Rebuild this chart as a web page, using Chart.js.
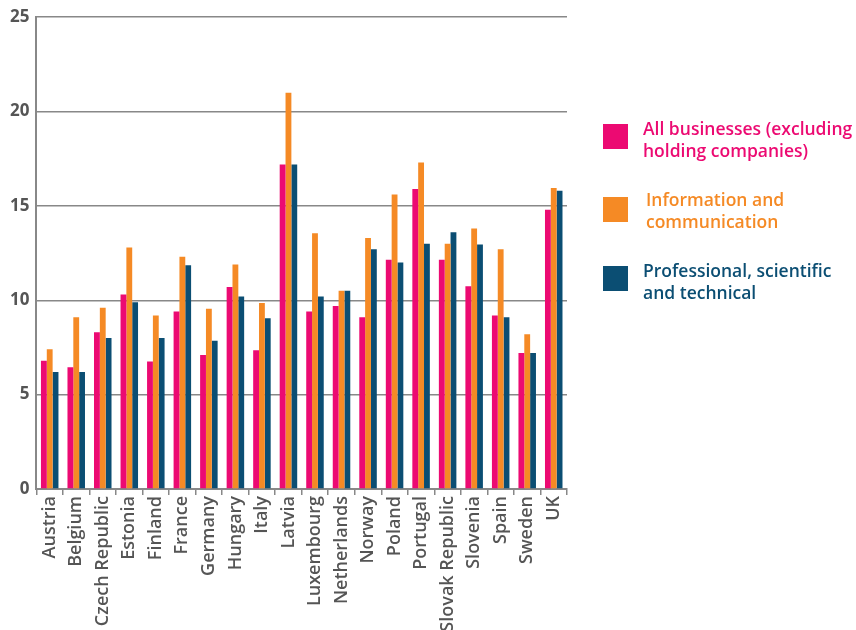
<!DOCTYPE html>
<html lang="en">
    <head>
        <script src="https://cdn.jsdelivr.net/npm/chart.js"></script>
        <style>
            body { margin: 0; background: #fff; font-family: "Open Sans", sans-serif; }
            #wrap { position: relative; width: 856px; height: 630px; overflow: hidden; }
            .leg { position: absolute; left: 603px; }
            .leg .box { position: absolute; left: 0; width: 25px; height: 25px; }
            .leg .txt { position: absolute; left: 40px; width: 215px; font-size: 17.5px; font-weight: 600; line-height: 22px; white-space: nowrap; }
        </style>
    </head>
    <body>
        <div id="wrap">
            <canvas id="myChart" width="856" height="630"></canvas>
            <div class="leg" style="top:124px">
                <div class="box" style="background:#ec0a72"></div>
                <div class="txt" style="color:#ec0a72;top:-7px">All businesses (excluding<br>holding companies)</div>
            </div>
            <div class="leg" style="top:197px">
                <div class="box" style="background:#f58a25"></div>
                <div class="txt" style="color:#f58a25;top:-9px;left:43px">Information and<br>communication</div>
            </div>
            <div class="leg" style="top:266px">
                <div class="box" style="background:#0b4e73"></div>
                <div class="txt" style="color:#0b4e73;top:-7px">Professional, scientific<br>and technical</div>
            </div>
        </div>
        <script>
            const countries = ["Austria", "Belgium", "Czech Republic", "Estonia", "Finland", "France", "Germany",
                "Hungary", "Italy", "Latvia", "Luxembourg", "Netherlands", "Norway", "Poland", "Portugal",
                "Slovak Republic", "Slovenia", "Spain", "Sweden", "UK"]
            const allBusinesses = [6.8, 6.45, 8.3, 10.3, 6.75, 9.4, 7.1, 10.7, 7.35, 17.2,
                9.4, 9.7, 9.1, 12.15, 15.9, 12.15, 10.75, 9.2, 7.2, 14.8]
            const infoComm = [7.4, 9.1, 9.6, 12.8, 9.2, 12.3, 9.55, 11.9, 9.85, 21.0,
                13.55, 10.5, 13.3, 15.6, 17.3, 13.0, 13.8, 12.7, 8.2, 15.95]
            const professional = [6.2, 6.2, 8.0, 9.9, 8.0, 11.85, 7.85, 10.2, 9.05, 17.2,
                10.2, 10.5, 12.7, 12.0, 13.0, 13.6, 12.95, 9.1, 7.2, 15.8]
            const yTicks = [0, 5, 10, 15, 20, 25]

            const gray = "#555"
            const ctx = document.getElementById("myChart")
            new Chart(ctx, {
                type: "bar",
                data: {
                    labels: countries,
                    datasets: [
                        { label: "All businesses (excluding holding companies)", data: allBusinesses, backgroundColor: "#ec0a72" },
                        { label: "Information and communication", data: infoComm, backgroundColor: "#f58a25" },
                        { label: "Professional, scientific and technical", data: professional, backgroundColor: "#0b4e73" },
                    ],
                },
                options: {
                    responsive: false,
                    animation: false,
                    layout: { padding: { left: 3, top: 3, right: 289, bottom: 0 } },
                    plugins: { legend: { display: false }, tooltip: { enabled: false } },
                    datasets: { bar: { categoryPercentage: 0.66, barPercentage: 1 } },
                    scales: {
                        x: {
                            afterFit: (axis) => { axis.height = 141 },
                            grid: { display: true, drawOnChartArea: false, color: "#888", lineWidth: 1.5, tickLength: 6 },
                            border: { color: "#888", width: 2 },
                            ticks: {
                                color: gray, minRotation: 90, maxRotation: 90, autoSkip: false, padding: 1,
                                font: { family: "Open Sans", size: 18, weight: "600" },
                            },
                        },
                        y: {
                            min: 0, max: 25,
                            afterBuildTicks: (axis) => { axis.ticks = yTicks.map((v) => ({ value: v })) },
                            grid: { color: "#888", lineWidth: 1.5, drawTicks: false },
                            border: { color: "#888", width: 2 },
                            ticks: {
                                color: gray, padding: 7,
                                font: { family: "Open Sans", size: 17, weight: "700" },
                            },
                        },
                    },
                },
            })
        </script>
    </body>
</html>
